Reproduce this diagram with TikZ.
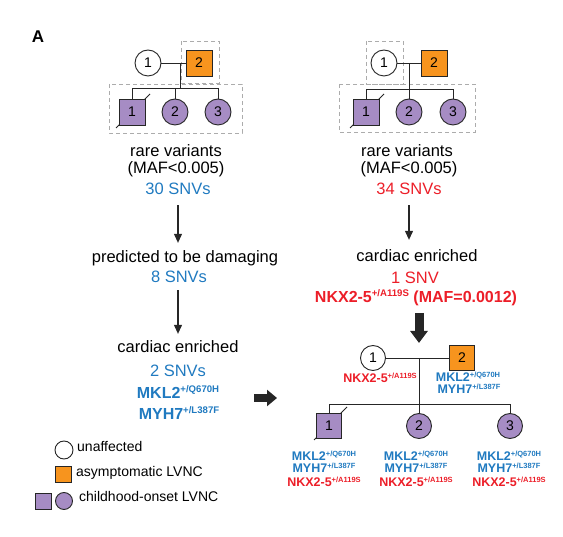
\documentclass[tikz,border=0pt]{standalone}
\usepackage{fontspec}
\setmainfont{Liberation Sans}
\usetikzlibrary{arrows.meta,calc}
\definecolor{snvblue}{RGB}{32,122,192}
\definecolor{snvred}{RGB}{236,30,40}
\definecolor{lvncorange}{RGB}{247,148,30}
\definecolor{lvncpurple}{RGB}{166,140,196}
\newcommand{\sups}[1]{\raisebox{0.72ex}{\scalebox{0.6}{#1}}}
\newcommand{\mklvar}{MKL2\sups{+/Q670H}}
\newcommand{\myhvar}{MYH7\sups{+/L387F}}
\newcommand{\nkxvar}{NKX2-5\sups{+/A119S}}
\tikzset{
  pers/.style={draw=black!85, line width=0.9pt, minimum size=26pt, inner sep=0pt, font=\fontsize{14}{14}\selectfont},
  fem/.style={pers, circle},
  mal/.style={pers, rectangle},
  unaff/.style={fill=white},
  asym/.style={fill=lvncorange},
  child/.style={fill=lvncpurple},
  kin/.style={line width=0.9pt, black!85},
  famgroup/.style={draw=gray!65, line width=0.8pt, dash pattern=on 4pt off 3pt},
  lbl/.style={inner sep=0pt, anchor=base, font=\fontsize{16.5}{18}\selectfont},
  lblblue/.style={lbl, text=snvblue},
  lblred/.style={lbl, text=snvred},
  generow/.style={lbl, font=\bfseries\fontsize{16}{18}\selectfont},
  genesmall/.style={lbl, font=\bfseries\fontsize{12.5}{13}\selectfont},
  legtext/.style={inner sep=0pt, anchor=base west, font=\fontsize{14}{16}\selectfont},
  thinarrow/.style={-{Triangle[length=9pt,width=8pt]}, line width=1.1pt, black!85},
  bigarrow/.style={-{Triangle[length=12pt,width=17pt]}, line width=9pt, black!85},
  sidearrow/.style={-{Triangle[length=10pt,width=16pt]}, line width=8pt, black!85},
}
\begin{document}
\begin{tikzpicture}[x=1pt,y=-1pt]
\useasboundingbox (0,0) rectangle (563,537);
\node[inner sep=0pt, font=\bfseries\fontsize{17}{17}\selectfont] (panel) at (38,37) {A};

% left family
\draw[famgroup] (181,41) rectangle (219,83);
\draw[famgroup] (109,84) rectangle (242,133);
\draw[kin] (132,112) ++(-16,16) -- ++(34,-34);
\node[fem,unaff] (L1) at (148,63) {1};
\node[mal,asym] (L2) at (199,63) {2};
\node[mal,child] (L3) at (132,112) {1};
\node[fem,child] (L4) at (175,112) {2};
\node[fem,child] (L5) at (218,112) {3};
\coordinate (Lmate) at (180,63);
\coordinate (Lsib) at (180,88);
\draw[kin] (L1) -- (L2);
\draw[kin] (Lmate) -- (Lsib);
\draw[kin] (L3) -- (L3 |- Lsib) -- (L5 |- Lsib) -- (L5);
\draw[kin] (L4 |- Lsib) -- (L4);

% right family
\draw[famgroup] (366,41) rectangle (403,84);
\draw[famgroup] (339,84) rectangle (475,132);
\draw[kin] (366,112) ++(-16,16) -- ++(34,-34);
\node[fem,unaff] (R1) at (384,63) {1};
\node[mal,asym] (R2) at (434,63) {2};
\node[mal,child] (R3) at (366,112) {1};
\node[fem,child] (R4) at (409,112) {2};
\node[fem,child] (R5) at (453,112) {3};
\coordinate (Rmate) at (409,63);
\coordinate (Rsib) at (409,89);
\draw[kin] (R1) -- (R2);
\draw[kin] (Rmate) -- (R4);
\draw[kin] (R3) -- (R3 |- Rsib) -- (R5 |- Rsib) -- (R5);

% left filtering steps
\node[lbl] (rareL) at (176,157) {rare variants};
\node[lbl] (mafL) at (176,174) {(MAF<0.005)};
\node[lblblue] (snvL) at (178,195) {30 SNVs};
\node[lbl] (damL) at (185,263) {predicted to be damaging};
\node[lblblue] (snvdL) at (179,283) {8 SNVs};
\node[lbl] (cardL) at (178,353) {cardiac enriched};
\node[lblblue] (snvcL) at (178,377) {2 SNVs};
\node[generow, text=snvblue] (mklL) at (178,399) {\mklvar};
\node[generow, text=snvblue] (myhL) at (179,420) {\myhvar};
\draw[thinarrow, shorten <=10pt, shorten >=8pt] (snvL) -- (snvL |- damL.north);
\draw[thinarrow, shorten <=7pt, shorten >=7pt] (snvdL.south -| snvL) -- (snvL |- cardL.north);

% right filtering steps
\node[lbl] (rareR) at (407,157) {rare variants};
\node[lbl] (mafR) at (409,174) {(MAF<0.005)};
\node[lblred] (snvR) at (409,195) {34 SNVs};
\node[lbl] (cardR) at (417,262) {cardiac enriched};
\node[lblred] (snvcR) at (415,284) {1 SNV};
\node[generow, text=snvred] (nkxR) at (416,303) {\nkxvar{} (MAF=0.0012)};
\draw[thinarrow, shorten <=10pt, shorten >=10pt] (snvR) -- (snvR |- cardR.north);

% arrows to segregation
\coordinate (bigtop) at (419,313);
\coordinate (bigtip) at (419,343);
\draw[bigarrow] (bigtop) -- (bigtip);
\coordinate (sidetail) at (254,398);
\coordinate (sidetip) at (277,398);
\draw[sidearrow] (sidetail) -- (sidetip);

% segregation family
\draw[kin] (329,426) ++(-15,14) -- ++(33,-33);
\node[fem,unaff,minimum size=25pt] (S1) at (373,358) {1};
\node[mal,asym,minimum size=25pt] (S2) at (462,358) {2};
\node[mal,child,minimum size=25pt] (S3) at (329,426) {1};
\node[fem,child,minimum size=25pt] (S4) at (419,426) {2};
\node[fem,child,minimum size=25pt] (S5) at (510,426) {3};
\coordinate (Smate) at (419,358);
\coordinate (Ssib) at (419,404);
\draw[kin] (S1) -- (S2);
\draw[kin] (Smate) -- (S4);
\draw[kin] (S3) -- (S3 |- Ssib) -- (S5 |- Ssib) -- (S5);
\node[genesmall, text=snvred] (nkxS1) at (380,383) {\nkxvar};
\node[genesmall, text=snvblue] (mklS2) at (468,382) {\mklvar};
\node[genesmall, text=snvblue] (myhS2) at (469,394) {\myhvar};
\node[genesmall, text=snvblue] (mklS3) at (324,461) {\mklvar};
\node[genesmall, text=snvblue] (myhS3) at (324,473) {\myhvar};
\node[genesmall, text=snvred] (nkxS3) at (324,487) {\nkxvar};
\node[genesmall, text=snvblue] (mklS4) at (416,461) {\mklvar};
\node[genesmall, text=snvblue] (myhS4) at (416,473) {\myhvar};
\node[genesmall, text=snvred] (nkxS4) at (416,487) {\nkxvar};
\node[genesmall, text=snvblue] (mklS5) at (509,461) {\mklvar};
\node[genesmall, text=snvblue] (myhS5) at (509,473) {\myhvar};
\node[genesmall, text=snvred] (nkxS5) at (509,487) {\nkxvar};

% legend
\node[fem,unaff,minimum size=18pt] (legU) at (64,450) {};
\node[legtext] (legUt) at (77,452) {unaffected};
\node[mal,asym,minimum size=16pt] (legA) at (63,474) {};
\node[legtext] (legAt) at (76,477) {asymptomatic LVNC};
\node[mal,child,minimum size=16pt] (legCs) at (43,501) {};
\node[fem,child,minimum size=17pt] (legCc) at (64,501) {};
\node[legtext] (legCt) at (79,502) {childhood-onset LVNC};
\end{tikzpicture}
\end{document}
